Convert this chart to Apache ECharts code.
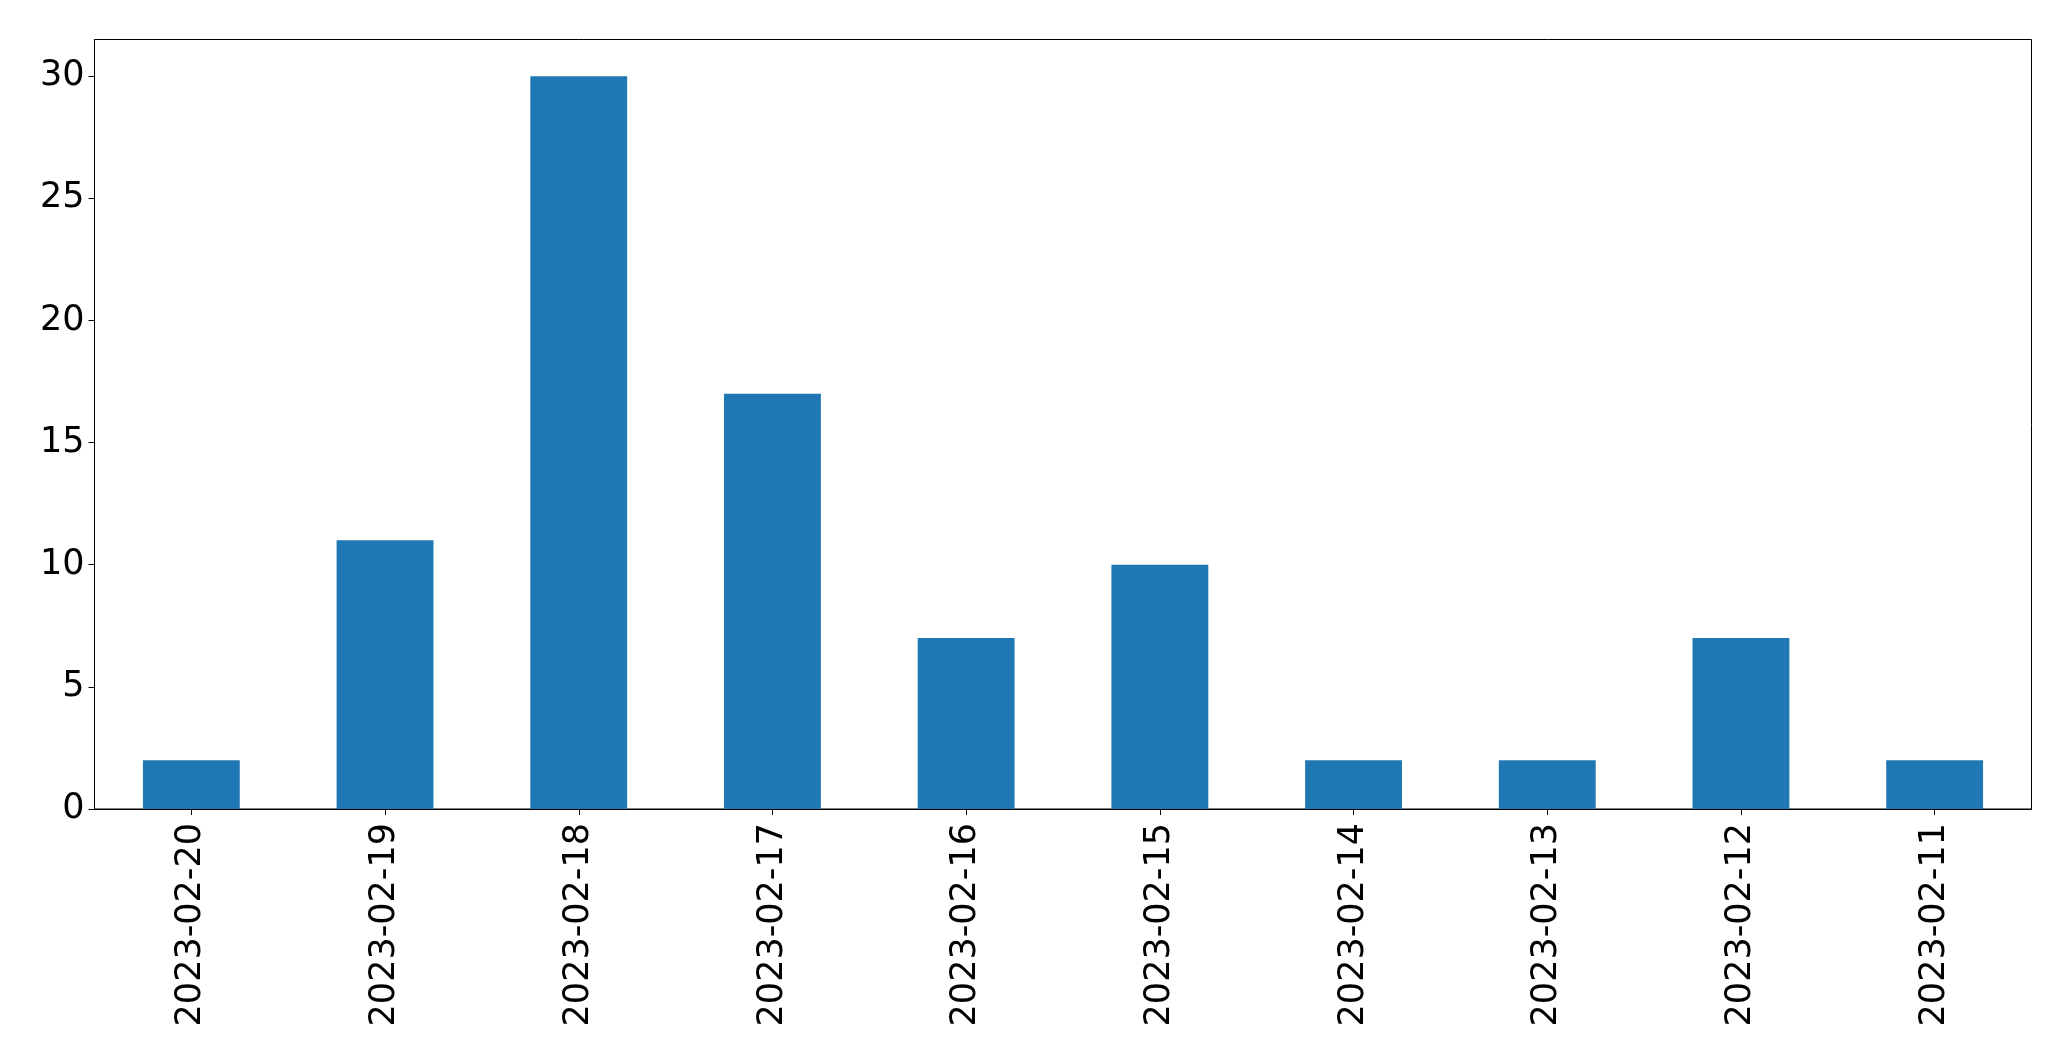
<!DOCTYPE html>
<html>
<head>
<meta charset="utf-8">
<script src="https://cdn.jsdelivr.net/npm/echarts@6/dist/echarts.min.js"></script>
<style>
html,body{margin:0;padding:0;background:#fff;}
#chart{width:2071px;height:1061px;}
</style>
</head>
<body>
<div id="chart"></div>
<script>
const categories = ["2023-02-20","2023-02-19","2023-02-18","2023-02-17","2023-02-16","2023-02-15","2023-02-14","2023-02-13","2023-02-12","2023-02-11"];
const values = [2, 11, 30, 17, 7, 10, 2, 2, 7, 2];
const yTicks = [0, 5, 10, 15, 20, 25, 30];

const chart = echarts.init(document.getElementById('chart'), null, {renderer: 'canvas'});
const font = '"DejaVu Sans", sans-serif';
chart.setOption({
  animation: false,
  backgroundColor: '#fff',
  grid: {
    left: 94.5, right: 39.5, top: 39.5, bottom: 252,
    containLabel: false,
    show: true, borderColor: '#000', borderWidth: 1, backgroundColor: 'transparent'
  },
  xAxis: {
    type: 'category',
    data: categories,
    axisLine: {show: true, lineStyle: {color: '#000', width: 1}},
    axisTick: {show: true, alignWithLabel: true, length: 6, lineStyle: {color: '#000', width: 1}},
    axisLabel: {rotate: 90, fontSize: 35, color: '#000', fontFamily: font, margin: 14, interval: 0},
    splitLine: {show: false}
  },
  yAxis: {
    type: 'value',
    min: 0, max: 31.5, interval: 5,
    axisLine: {show: true, lineStyle: {color: '#000', width: 1}},
    axisTick: {show: true, length: 6, lineStyle: {color: '#000', width: 1}, customValues: yTicks},
    axisLabel: {fontSize: 35, color: '#000', fontFamily: font, margin: 10, customValues: yTicks},
    splitLine: {show: false}
  },
  series: [{
    type: 'bar',
    data: values,
    barWidth: '50%',
    itemStyle: {color: '#1f77b4'}
  }]
});
</script>
</body>
</html>
